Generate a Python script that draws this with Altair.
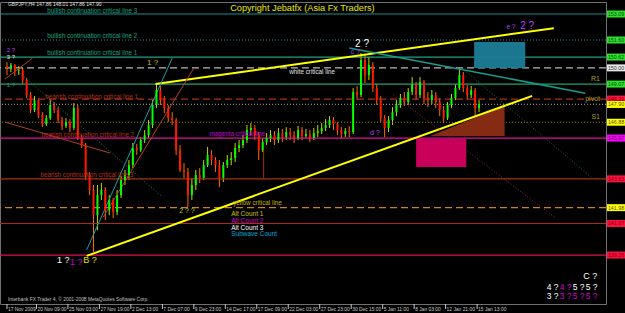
import altair as alt
import pandas as pd

# ---------------- candle data (GBPJPY H4) ----------------
opens = [150.10,149.99,150.16,149.82,149.87,149.30,148.44,147.58,148.15,147.29,
146.78,147.12,147.87,147.58,147.01,146.66,146.89,146.55,147.69,145.97,
145.57,143.85,142.99,141.55,142.70,142.99,141.84,142.42,141.73,142.70,
143.56,143.85,144.42,145.40,145.28,145.86,146.14,146.72,147.87,148.73,
148.15,147.69,147.12,147.01,145.28,144.14,144.02,142.70,143.28,143.85,
143.68,144.42,145.00,144.71,144.42,143.68,144.42,144.71,144.83,145.40,
145.57,145.86,146.43,146.55,146.14,145.28,145.74,145.97,146.14,145.86,
146.26,146.03,146.32,146.14,145.97,146.43,146.09,146.20,145.97,146.26,
146.37,146.55,146.72,147.01,146.78,146.43,146.20,146.37,146.32,148.61,
148.44,150.45,149.59,150.16,148.84,148.15,147.12,146.55,147.01,147.46,
147.87,148.27,148.04,148.61,149.07,148.44,149.19,148.27,148.15,148.44,
148.04,147.58,147.12,147.87,148.27,148.84,149.59,148.84,148.44,148.73,
147.69]
closes = [149.99,150.16,149.82,149.87,149.30,148.44,147.58,148.15,147.29,146.78,
147.12,147.87,147.58,147.01,146.66,146.89,146.55,147.69,145.97,145.57,
143.85,142.99,141.55,142.70,142.99,141.84,142.42,141.73,142.70,143.56,
143.85,144.42,145.40,145.28,145.86,146.14,146.72,147.87,148.73,148.15,
147.69,147.12,147.01,145.28,144.14,144.02,142.70,143.28,143.85,143.68,
144.42,145.00,144.71,144.42,143.68,144.42,144.71,144.83,145.40,145.57,
145.86,146.43,146.55,146.14,145.28,145.74,145.97,146.14,145.86,146.26,
146.03,146.32,146.14,145.97,146.43,146.09,146.20,145.97,146.26,146.37,
146.55,146.72,147.01,146.78,146.43,146.20,146.37,146.32,148.61,148.44,
150.45,149.59,150.16,148.84,148.15,147.12,146.55,147.01,147.46,147.87,
148.27,148.04,148.61,149.07,148.44,149.19,148.27,148.15,148.44,148.04,
147.58,147.12,147.87,148.27,148.84,149.59,148.84,148.44,148.73,147.69,
147.92]
highs = [150.33,150.28,150.22,150.10,149.99,149.41,148.61,148.38,148.27,147.46,
147.29,148.15,148.04,147.75,147.18,147.12,147.06,147.98,147.87,146.14,
145.69,144.02,143.28,143.28,143.39,143.16,142.70,142.53,142.99,143.79,
144.14,144.71,145.69,145.63,146.03,146.43,147.01,148.15,149.13,148.96,
148.38,147.87,147.46,147.12,145.57,144.54,144.25,143.68,144.14,144.25,
144.71,145.46,145.28,144.88,144.71,144.60,145.00,145.17,145.69,145.86,
146.14,146.72,146.83,146.72,146.32,145.97,146.26,146.43,146.37,146.55,
146.49,146.60,146.55,146.37,146.66,146.60,146.49,146.43,146.55,146.72,
146.83,147.06,147.23,147.18,146.89,146.60,146.55,146.66,148.84,148.96,
150.85,150.73,150.62,150.33,149.07,148.38,147.29,147.23,147.75,148.15,
148.50,148.61,148.84,149.47,149.19,149.47,149.30,148.61,148.73,148.61,
148.27,147.81,148.04,148.50,149.07,149.99,149.76,149.01,148.96,148.84,
148.15]
lows = [149.59,149.76,149.53,149.59,149.07,148.27,147.41,147.46,147.12,146.60,
146.66,147.01,147.41,146.83,146.43,146.55,146.32,146.43,145.86,145.40,
143.56,142.70,139.43,140.69,142.42,141.27,141.55,141.38,141.55,142.53,
143.28,143.56,144.25,145.00,145.17,145.69,145.97,146.55,147.69,147.87,
147.41,146.89,146.72,145.00,144.02,143.68,142.01,142.42,142.99,143.39,
143.56,144.31,144.42,144.02,143.16,143.45,144.25,144.42,144.60,145.17,
145.40,145.69,146.14,145.86,144.71,145.17,145.57,145.74,145.57,145.69,
145.74,145.86,145.86,145.69,145.86,145.86,145.97,145.74,145.86,146.03,
146.20,146.37,146.55,146.43,146.14,145.97,146.03,146.03,146.20,148.15,
148.32,149.13,149.30,148.61,147.87,146.89,146.03,146.32,146.72,147.23,
147.69,147.81,147.87,148.44,148.15,148.27,147.92,147.75,147.92,147.69,
147.23,146.83,147.01,147.69,148.15,148.73,148.61,148.15,148.27,147.23,
147.46]

# ---------------- axes ----------------
time_labels = ["17 Nov 2009", "20 Nov 09:00", "25 Nov 03:00", "27 Nov 19:00",
               "2 Dec 13:00", "7 Dec 07:00", "9 Dec 23:00", "14 Dec 17:00",
               "17 Dec 09:00", "22 Dec 03:00", "27 Dec 23:00", "30 Dec 15:00",
               "5 Jan 11:00", "8 Jan 03:00", "12 Jan 21:00", "15 Jan 13:00"]
time_ticks = [0.5, 8, 16, 24, 32, 40, 48, 56, 64, 72, 80, 88, 96, 104, 112, 120]
price_ticks = [153.25, 152.30, 151.35, 150.45, 149.50, 148.55, 147.60, 146.65,
               145.70, 144.80, 143.85, 142.95, 142.00, 141.05, 140.15, 139.20,
               138.30, 137.35, 136.45]

# ---------------- horizontal levels ----------------
level_prices = [153.09, 151.60, 150.62, 150.00, 149.07, 148.21, 147.90, 146.88,
                145.97, 143.63, 141.98, 141.07, 139.26]
level_colors = ["#1a8f8f", "#1a8f8f", "#20a080", "#b8b8b8", "#20a070", "#b03010",
                "#8a8a8a", "#8a8a00", "#e010a0", "#a83010", "#d08020", "#a83010",
                "#e01050"]
level_styles = ["solid", "dotted", "solid", "dashed", "solid", "dashed", "dotted",
                "dotted", "solid", "solid", "dashed", "solid", "solid"]
box_colors = ["#30e030", "#30e030", "#30e030", "#e8e8e8", "#30e030", "#ff1040",
              "#ffff00", "#ffff00", "#ff00ff", "#ff1040", "#ffff00", "#ff1040",
              "#ff1040"]
box_text_colors = ["#005000", "#005000", "#005000", "#303030", "#005000", "#700000",
                   "#505000", "#505000", "#600060", "#700000", "#505000", "#700000",
                   "#700000"]
box_labels = ["153.09", "151.60", "150.62", "150.00", "149.07", "148.21", "147.90",
              "146.88", "145.97", "143.63", "141.98", "141.07", "139.26"]

# ---------------- trend lines ----------------
tl_x1 = [20.75, 38.25, 87.5, 20.75, 25.0, 0.0, 0.0, 3.75, 116.75, 98.75]
tl_y1 = [139.21, 149.07, 151.14, 139.55, 141.44, 146.89, 149.36, 149.70, 149.87, 148.44]
tl_x2 = [134.0, 139.5, 147.5, 42.5, 48.0, 26.75, 7.0, 40.0, 149.25, 140.0]
tl_y2 = [148.39, 152.28, 148.55, 150.56, 149.99, 145.11, 150.56, 142.59, 143.68, 141.38]
tl_colors = ["#ffff00", "#ffff00", "#1a9a8a", "#20a0a0", "#b04020", "#b04020",
             "#b04020", "#208060", "#207040", "#a02060"]
tl_widths = [2, 2, 1.5, 1, 1, 1, 1, 1, 1, 1]
tl_styles = ["solid"] * 7 + ["dotted"] * 3

# ---------------- boxes / zones ----------------
zone_x1 = [119.25, 104.5]
zone_x2 = [132.25, 117.25]
zone_y1 = [149.99, 144.31]
zone_y2 = [151.48, 145.92]
zone_colors = ["#1c7c98", "#d4005f"]

tri_x = [108.0, 127.0]
tri_top = [146.09, 147.81]
tri_bottom = [146.09, 146.09]

# ---------------- texts ----------------
txt = [
    # text, bar, price, color, size, align
    ("Copyright Jebatfx (Asia Fx Traders)", 75.6, 153.42, "#e8e800", 9.2, "center"),
    ("GBPJPY,H4 147.86 148.01 147.86 147.90", 0.75, 153.66, "#e0e0e0", 5.0, "left"),
    ("bullish continuation critical line 3", 10.75, 153.28, "#1aa080", 6.3, "left"),
    ("bullish continuation critical line 2", 10.75, 151.83, "#1aa080", 6.3, "left"),
    ("bullish continuation critical line 1", 10.75, 150.85, "#1aa080", 6.3, "left"),
    ("white critical line", 72.25, 149.76, "#e0e0e0", 6.3, "left"),
    ("bearish continuation critical line 1", 10.25, 148.33, "#b83018", 6.3, "left"),
    ("bearish continuation critical line 2", 9.25, 146.15, "#b83018", 6.3, "left"),
    ("magenta critical line", 52.0, 146.21, "#c000d0", 6.3, "left"),
    ("bearish continuation critical line 3", 9.0, 143.86, "#b83018", 6.3, "left"),
    ("yellow critical line", 58.0, 142.25, "#c0b000", 6.3, "left"),
    ("Alt Count 1", 57.5, 141.62, "#c8c800", 6.5, "left"),
    ("Alt Count 2", 57.5, 141.22, "#d000d0", 6.5, "left"),
    ("Alt Count 3", 57.5, 140.82, "#ffffff", 6.5, "left"),
    ("Subwave Count", 57.5, 140.47, "#00a8d0", 6.5, "left"),
    ("R1", 151.25, 149.36, "#a0a020", 7, "right"),
    ("pivot", 151.25, 148.21, "#a0a020", 7, "right"),
    ("S1", 151.25, 147.18, "#a0a020", 7, "right"),
    ("2 ?", 90.75, 151.37, "#ffffff", 10, "center"),
    ("c ?", 89.0, 150.91, "#a040ff", 7, "center"),
    ("e ?", 128.6, 152.33, "#c040ff", 6.5, "center"),
    ("2 ?", 132.75, 152.40, "#c040ff", 10, "center"),
    ("1 ?", 37.5, 150.28, "#c0c000", 8, "center"),
    ("1 ?", 14.8, 138.98, "#ffffff", 9, "center"),
    ("1 ?", 18.1, 138.86, "#d000d0", 9, "center"),
    ("B ?", 21.6, 138.98, "#e0e000", 9, "center"),
    ("d ?", 94.0, 146.27, "#c040ff", 7, "center"),
    ("2 ? ?", 46.25, 141.79, "#c0c000", 7, "center"),
    ("C ?", 148.75, 138.06, "#ffffff", 9, "center"),
    ("4 ?", 139.2, 137.43, "#ffffff", 8.5, "center"),
    ("4 ?", 142.5, 137.43, "#d000d0", 8.5, "center"),
    ("5 ?", 145.8, 137.43, "#ffffff", 8.5, "center"),
    ("5 ?", 149.1, 137.43, "#ffffff", 8.5, "center"),
    ("3 ?", 139.2, 136.91, "#ffffff", 8.5, "center"),
    ("3 ?", 142.5, 136.91, "#d000d0", 8.5, "center"),
    ("5 ?", 145.8, 136.91, "#d000d0", 8.5, "center"),
    ("5 ?", 149.1, 136.91, "#d000d0", 8.5, "center"),
    ("2 ?", 1.5, 151.03, "#c040ff", 6, "center"),
    ("3 ?", 1.5, 150.63, "#e0e0e0", 6, "center"),
    ("1 ?", 1.5, 149.03, "#20a0a0", 6, "center"),
    ("Interbank FX Trader 4, \u00a9 2001-2008 MetaQuotes Software Corp.", 0.75, 136.68,
     "#c0c0c0", 4.9, "left"),
]

FONT = "Liberation Sans"
xs = alt.Scale(domain=[0, 151.5], nice=False, zero=False)
ys = alt.Scale(domain=[136.45, 153.78], nice=False, zero=False)

candles = pd.DataFrame({
    "bar": [i + 0.5 for i in range(len(closes))],
    "open": opens, "high": highs, "low": lows, "close": closes,
})

y_axis = alt.Axis(values=price_ticks, format=".2f", orient="right", labelColor="#c8c8c8",
                  labelFontSize=5.4, labelFont=FONT, labelPadding=1, tickSize=2,
                  tickColor="#c8c8c8", domainColor="#c8c8c8", grid=False, title=None,
                  labelFlush=False, labelOverlap=False, labelBaseline="middle")

wick = alt.Chart(candles).mark_rule(strokeWidth=1).encode(
    x=alt.X("bar:Q", scale=xs, axis=None),
    y=alt.Y("low:Q", scale=ys, axis=y_axis),
    y2="high:Q",
    color=alt.condition("datum.close >= datum.open", alt.value("#b8e000"), alt.value("#ff6a00")),
)
body = alt.Chart(candles).mark_bar(size=2).encode(
    x=alt.X("bar:Q", scale=xs, axis=None),
    y=alt.Y("open:Q", scale=ys, axis=None),
    y2="close:Q",
    color=alt.condition("datum.close >= datum.open", alt.value("#00ff00"), alt.value("#ff1800")),
)

# time axis drawn as marks below the plot
tdf_time = pd.DataFrame({"t": time_ticks, "label": time_labels})
time_ticks_layer = alt.Chart(tdf_time).mark_rule(color="#c8c8c8", strokeWidth=1).encode(
    x=alt.X("t:Q", scale=xs, axis=None),
    y=alt.value(302), y2=alt.value(307),
)
time_text_layer = alt.Chart(tdf_time).mark_text(
    align="left", baseline="top", font=FONT, fontSize=4.9, color="#c8c8c8", dx=1
).encode(
    x=alt.X("t:Q", scale=xs, axis=None),
    y=alt.value(304.5),
    text="label:N",
)

levels = pd.DataFrame({"price": level_prices, "col": level_colors, "style": level_styles})
dash_map = {"solid": [1, 0], "dotted": [1, 2], "dashed": [7, 4]}
level_layers = []
for style, dash in dash_map.items():
    sub = levels[levels["style"] == style]
    kw = {} if style == "solid" else {"strokeDash": dash}
    level_layers.append(
        alt.Chart(sub).mark_rule(strokeWidth=1.2, **kw).encode(
            y=alt.Y("price:Q", scale=ys, axis=None),
            color=alt.Color("col:N", scale=None),
        )
    )

zones = pd.DataFrame({"x1": zone_x1, "x2": zone_x2, "y1": zone_y1, "y2": zone_y2,
                      "col": zone_colors})
zone_layer = alt.Chart(zones).mark_rect(opacity=0.95).encode(
    x=alt.X("x1:Q", scale=xs, axis=None), x2="x2:Q",
    y=alt.Y("y1:Q", scale=ys, axis=None), y2="y2:Q",
    color=alt.Color("col:N", scale=None),
)

tri = pd.DataFrame({"x": tri_x, "top": tri_top, "bottom": tri_bottom})
tri_layer = alt.Chart(tri).mark_area(color="#8c2c14", opacity=0.95).encode(
    x=alt.X("x:Q", scale=xs, axis=None),
    y=alt.Y("top:Q", scale=ys, axis=None),
    y2="bottom:Q",
)

vline = pd.DataFrame({"x": [65.75], "y1": [145.28], "y2": [143.68]})
vline_layer = alt.Chart(vline).mark_rule(color="#a83010", strokeWidth=1).encode(
    x=alt.X("x:Q", scale=xs, axis=None),
    y=alt.Y("y1:Q", scale=ys, axis=None), y2="y2:Q",
)

tls = pd.DataFrame({"x1": tl_x1, "y1": tl_y1, "x2": tl_x2, "y2": tl_y2,
                    "col": tl_colors, "w": tl_widths, "style": tl_styles})
tl_layers = []
for style in ["solid", "dotted"]:
    sub = tls[tls["style"] == style]
    kw = {} if style == "solid" else {"strokeDash": [1, 2]}
    tl_layers.append(
        alt.Chart(sub).mark_rule(clip=True, **kw).encode(
            x=alt.X("x1:Q", scale=xs, axis=None), x2="x2:Q",
            y=alt.Y("y1:Q", scale=ys, axis=None), y2="y2:Q",
            color=alt.Color("col:N", scale=None),
            strokeWidth=alt.StrokeWidth("w:Q", scale=None),
        )
    )

tdf = pd.DataFrame(txt, columns=["text", "x", "y", "col", "fs", "align"])
text_layers = []
for al in ["left", "center", "right"]:
    sub = tdf[tdf["align"] == al]
    text_layers.append(
        alt.Chart(sub).mark_text(align=al, baseline="middle", font=FONT).encode(
            x=alt.X("x:Q", scale=xs, axis=None),
            y=alt.Y("y:Q", scale=ys, axis=None),
            text="text:N",
            color=alt.Color("col:N", scale=None),
            size=alt.Size("fs:Q", scale=None),
        )
    )

boxes = pd.DataFrame({"price": level_prices, "bg": box_colors, "fg": box_text_colors,
                      "label": box_labels})
box_rect = alt.Chart(boxes).transform_calculate(
    lo="datum.price - 0.2", hi="datum.price + 0.2"
).mark_rect().encode(
    x=alt.value(607), x2=alt.value(625),
    y=alt.Y("lo:Q", scale=ys, axis=None), y2="hi:Q",
    color=alt.Color("bg:N", scale=None),
)
box_text = alt.Chart(boxes).mark_text(align="center", baseline="middle", font=FONT,
                                      fontSize=5.3).encode(
    x=alt.value(616),
    y=alt.Y("price:Q", scale=ys, axis=None),
    text="label:N",
    color=alt.Color("fg:N", scale=None),
)

chart = alt.layer(
    wick, *level_layers, zone_layer, tri_layer, vline_layer, *tl_layers, body,
    *text_layers, box_rect, box_text, time_ticks_layer, time_text_layer,
).properties(
    width=606, height=302,
    background="#000000",
    padding={"left": 0, "top": 2, "right": 19, "bottom": 9},
    autosize=alt.AutoSizeParams(type="none"),
).configure_view(fill="#000000", stroke="#707070", strokeWidth=1)

chart.save("out.html", embed_options={"renderer": "svg", "actions": False})
